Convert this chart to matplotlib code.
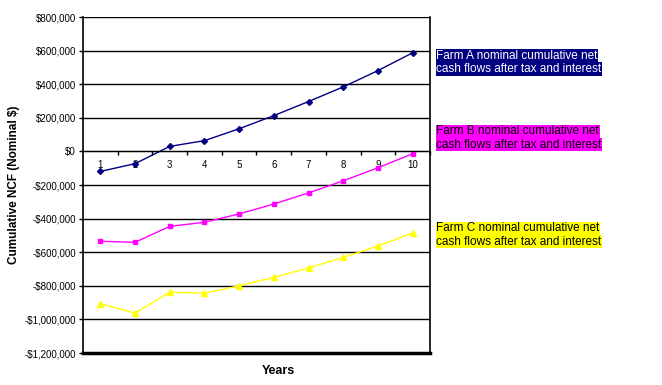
import numpy as np
import matplotlib
matplotlib.use("Agg")
from matplotlib import pyplot as plt
from matplotlib.ticker import FuncFormatter

years = [1, 2, 3, 4, 5, 6, 7, 8, 9, 10]
farm_a = [-119000, -73000, 30000, 64000, 135000, 213000, 297000, 384000, 481000, 587000]
farm_b = [-535000, -541000, -446000, -422000, -372000, -313000, -247000, -175000, -97000, -14000]
farm_c = [-906000, -963000, -838000, -844000, -800000, -750000, -694000, -631000, -563000, -485000]
labels = ["Farm A nominal cumulative net", "Farm B nominal cumulative net", "Farm C nominal cumulative net"]
colors = ["#000080", "#FF00FF", "#FFFF00"]
text_colors = ["white", "black", "black"]

plt.rcParams["font.family"] = ["Liberation Sans", "DejaVu Sans"]

fig = plt.figure(figsize=(6.62, 3.85), dpi=100)
ax = fig.add_axes([0.1254, 0.0831, 0.5241, 0.8727])

ax.plot(years, farm_a, color=colors[0], lw=1, marker="D", ms=3, mfc=colors[0], mec=colors[0])
ax.plot(years, farm_b, color=colors[1], lw=1, marker="s", ms=3.5, mfc=colors[1], mec=colors[1])
ax.plot(years, farm_c, color=colors[2], lw=1, marker="^", ms=4, mfc=colors[2], mec=colors[2])

ax.set_xlim(0.5, 10.5)
ax.set_ylim(-1200000, 800000)
ax.set_yticks(np.arange(-1200000, 800001, 200000))

def money(v, pos):
    if v == 0:
        return "$0"
    s = "${:,.0f}".format(abs(v))
    return "-" + s if v < 0 else s

ax.yaxis.set_major_formatter(FuncFormatter(money))
ax.tick_params(axis="y", labelsize=7, length=3, width=1, pad=2)
ax.yaxis.grid(True, color="black", lw=1)
ax.set_axisbelow(True)

# category axis sits on the $0 line
ax.spines["bottom"].set_position(("data", 0))
ax.spines["top"].set_visible(False)
ax.spines["left"].set_linewidth(1.2)
ax.spines["right"].set_linewidth(1.2)
ax.axhline(-1200000, color="black", lw=2.5, clip_on=False)
ax.set_xticks(np.arange(1.5, 10.6, 1))
ax.set_xticklabels([])
ax.tick_params(axis="x", which="major", length=3, width=1, direction="out")
ax.set_xticks(years, minor=True)
ax.set_xticklabels([str(y) for y in years], minor=True)
ax.tick_params(axis="x", which="minor", length=0, labelsize=7, pad=6)

ax.set_ylabel("Cumulative NCF (Nominal $)", fontsize=8.5, fontweight="bold", labelpad=3)
fig.text(0.42, 0.036, "Years", fontsize=9, fontweight="bold", ha="center", va="center")

# series labels drawn as filled text boxes at the right
label_y = [0.8545, 0.6585, 0.4065]
for lab, c, tc, y in zip(labels, colors, text_colors, label_y):
    for k, line in enumerate([lab, "cash flows after tax and interest"]):
        fig.text(0.659, y - k * 0.034, line, fontsize=8.5, color=tc, ha="left", va="center",
                 bbox=dict(facecolor=c, edgecolor="none", pad=0.5))

fig.savefig("out.png", dpi=100)
